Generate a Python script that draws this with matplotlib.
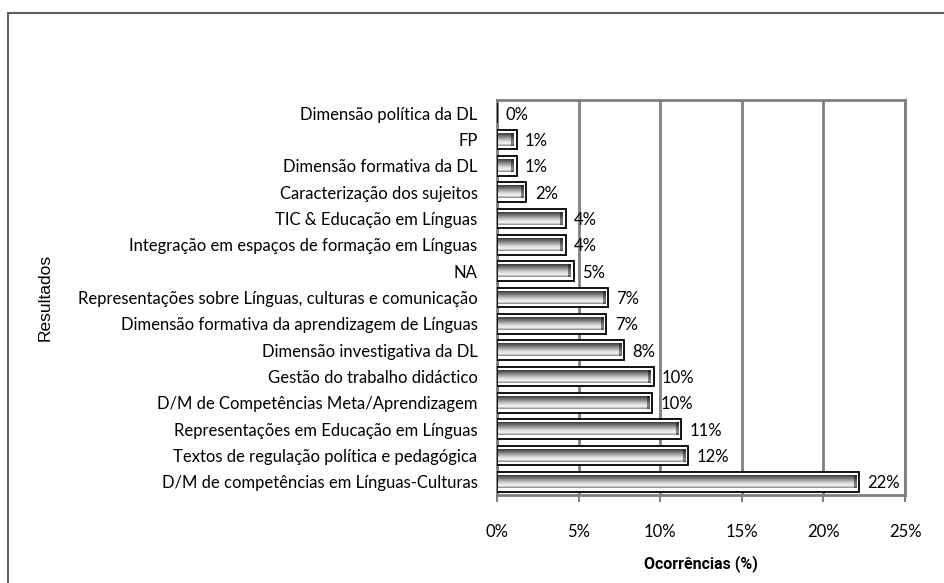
import numpy as np
import matplotlib.pyplot as plt
from matplotlib.colors import LinearSegmentedColormap

categories = [
    "D/M de competências em Línguas-Culturas",
    "Textos de regulação política e pedagógica",
    "Representações em Educação em Línguas",
    "D/M de Competências Meta/Aprendizagem",
    "Gestão do trabalho didáctico",
    "Dimensão investigativa da DL",
    "Dimensão formativa da aprendizagem de Línguas",
    "Representações sobre Línguas, culturas e comunicação",
    "NA",
    "Integração em espaços de formação em Línguas",
    "TIC & Educação em Línguas",
    "Caracterização dos sujeitos",
    "Dimensão formativa da DL",
    "FP",
    "Dimensão política da DL",
]
values = [22.2, 11.7, 11.3, 9.5, 9.6, 7.8, 6.7, 6.8, 4.7, 4.2, 4.2, 1.8, 1.2, 1.2, 0.0]
labels = ["22%", "12%", "11%", "10%", "10%", "8%", "7%", "7%", "5%", "4%", "4%", "2%", "1%", "1%", "0%"]
xticks = [0, 5, 10, 15, 20, 25]

font = "Lato"
fs = 12

fig = plt.figure(figsize=(9.44, 5.83), dpi=100)
ax = fig.add_axes([0.5265, 0.151, 0.4322, 0.6775])

# frame around the whole chart area
fig.patches.append(plt.Rectangle((0.009, -0.05), 1.2, 1.028, transform=fig.transFigure,
                                 fill=False, edgecolor="#606060", lw=1.5))

y = np.arange(len(categories))
h = 0.74
ax.barh(y, values, height=h, color="white", edgecolor="black", lw=1.3, zorder=3)

# shaded "cylinder" fill inside each bar
shade = LinearSegmentedColormap.from_list(
    "shade", ["#8a8a8a", "#f4f4f4", "#d8d8d8", "#a0a0a0", "#6a6a6a", "#3a3a3a"])
grad = np.linspace(0, 1, 64).reshape(-1, 1)
px_per_unit = 408 / 25
for yi, v in zip(y, values):
    if v <= 0:
        continue
    x0, x1 = 0.05, v - 0.18
    ncol = max(int((x1 - x0) * px_per_unit), 4)
    rgba = shade(np.repeat(grad, ncol, axis=1))
    # darker right end
    rgba[:, -3:, :3] *= 0.55
    ax.imshow(rgba, extent=(x0, x1, yi + h / 2 - 0.13, yi - h / 2 + 0.13),
              aspect="auto", zorder=4, interpolation="nearest")

for yi, v, lab in zip(y, values, labels):
    ax.annotate(lab, (v, yi), xytext=(6, -1), textcoords="offset points",
                va="center", ha="left", fontsize=fs, family=font, zorder=5)

ax.set_xlim(0, 25)
ax.set_ylim(len(categories) - 0.5, -0.5)
ax.invert_yaxis()
ax.set_xticks(xticks)
ax.set_xticklabels([f"{t}%" for t in xticks], family=font, fontsize=fs)
ax.set_yticks(y)
ax.set_yticklabels(categories, family=font, fontsize=fs)
ax.tick_params(axis="y", length=0, pad=14)
ax.tick_params(axis="x", length=5, width=1.5, color="#808080", pad=16)
ax.xaxis.grid(True, color="#808080", lw=2, zorder=0)
ax.set_axisbelow(True)
for s in ax.spines.values():
    s.set_color("#808080")
    s.set_linewidth(2)

ax.set_xlabel("Ocorrências (%)", family="Roboto", fontsize=11.5, fontweight="bold", labelpad=11)
fig.text(0.048, 0.49, "Resultados", rotation=90, ha="center", va="center",
         family="Liberation Sans", fontsize=12.5)

fig.savefig("out.png", dpi=100, facecolor="white")
